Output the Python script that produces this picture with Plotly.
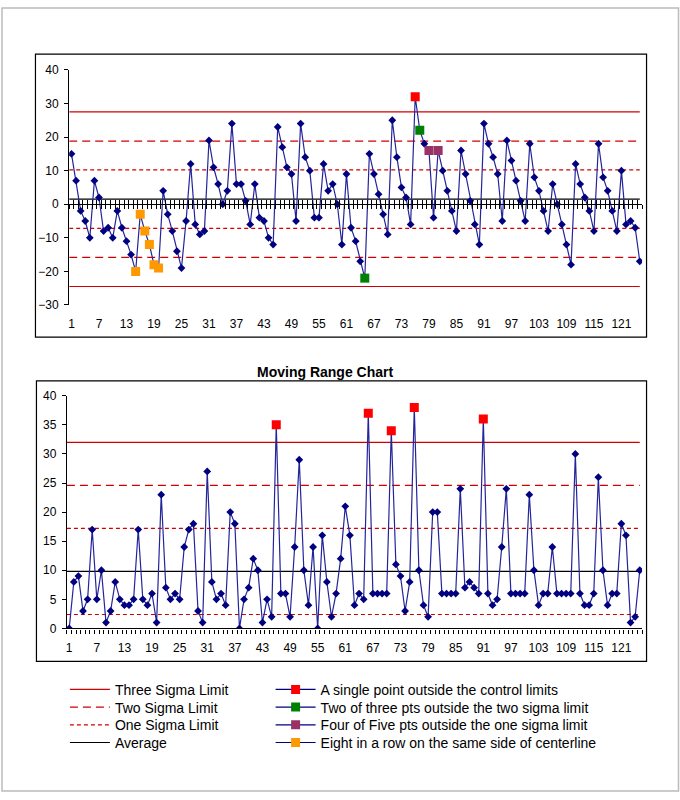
import plotly.graph_objects as go

W, H = 680, 800
FONT = "Liberation Sans, Arial, sans-serif"

# ---------------- data ----------------
points = list(range(1, 126))
values = [15, 7, -2, -5, -10, 7, 2, -8, -7, -10,
          -2, -7, -11, -15, -20, -3, -8, -12, -18, -19,
          4, -3, -8, -14, -19, -5, 12, -6, -9, -8,
          19, 11, 6, 0, 4, 24, 6, 6, 1, -6,
          6, -4, -5, -10, -12, 23, 17, 11, 9, -5,
          24, 14, 10, -4, -4, 12, 4, 6, 0, -12,
          9, -7, -11, -17, -22, 15, 9, 3, -3, -9,
          25, 14, 5, 2, -6, 32, 22, 18, 16, -4,
          16, 10, 4, -2, -8, 16, 9, 1, -6, -12,
          24, 18, 14, 9, -5, 19, 13, 7, 1, -5,
          18, 8, 4, -2, -8, 6, 0, -6, -12, -18,
          12, 6, 2, -2, -8, 18, 8, 4, -2, -8,
          10, -6, -5, -7, -17]
moving_range = [0, 8, 9, 3, 5, 17, 5, 10, 1, 3,
                8, 5, 4, 4, 5, 17, 5, 4, 6, 1,
                23, 7, 5, 6, 5, 14, 17, 18, 3, 1,
                27, 8, 5, 6, 4, 20, 18, 0, 5, 7,
                12, 10, 1, 5, 2, 35, 6, 6, 2, 14,
                29, 10, 4, 14, 0, 16, 8, 2, 6, 12,
                21, 16, 4, 6, 5, 37, 6, 6, 6, 6,
                34, 11, 9, 3, 8, 38, 10, 4, 2, 20,
                20, 6, 6, 6, 6, 24, 7, 8, 7, 6,
                36, 6, 4, 5, 14, 24, 6, 6, 6, 6,
                23, 10, 4, 6, 6, 14, 6, 6, 6, 6,
                30, 6, 4, 4, 6, 26, 10, 4, 6, 6,
                18, 16, 1, 2, 10]

# control limits (individuals chart)
x_average = 1.5
x_one_sigma = [10.2, -7.2]
x_two_sigma = [18.8, -15.8]
x_three_sigma = [27.5, -24.5]
# control limits (moving range chart)
mr_average = 9.8
mr_one_sigma = [17.2, 2.4]
mr_two_sigma = [24.6]
mr_three_sigma = [32.0]

# flagged points (1-based positions)
rule_single_outside = [76]
rule_two_of_three = [65, 77]
rule_four_of_five = [79, 81]
rule_eight_in_row = [15, 16, 17, 18, 19, 20]
mr_single_outside = [46, 66, 71, 76, 91]

tick_labels = ["1", "7", "13", "19", "25", "31", "37", "43", "49", "55", "61",
               "67", "73", "79", "85", "91", "97", "103", "109", "115", "121"]
top_y_ticks = [-30, -20, -10, 0, 10, 20, 30, 40]
mr_y_ticks = [0, 5, 10, 15, 20, 25, 30, 35, 40]

# ---------------- styles ----------------
NAVY = "#000080"
SERIES_LINE = "#24249a"
RED = "#D00000"
DASH2 = "8px,5px"
DASH1 = "4px,3px"


def px(p):
    return p / W


def py(p):
    return 1 - p / H


def gapped(idx, vals):
    xs, ys = [], []
    for k in idx:
        xs += [k, None]
        ys += [vals[k - 1], None]
    return xs, ys


x_span = [points[0] - 0.5, points[-1]]
x_range = [points[0] - 0.5, points[-1] + 0.5]

fig = go.Figure()


def hline(val, dash, color, name, xa, ya, show, legend="legend", width=1.2):
    fig.add_trace(go.Scatter(
        x=x_span, y=[val, val], mode="lines", xaxis=xa, yaxis=ya,
        line=dict(color=color, width=width, dash=dash),
        name=name, showlegend=show, legend=legend,
        hoverinfo="skip"))


# ---- Individuals chart (top) ----
for i, v in enumerate(x_three_sigma):
    hline(v, "solid", RED, "Three Sigma Limit", "x", "y", i == 0, "legend")
for i, v in enumerate(x_two_sigma):
    hline(v, DASH2, RED, "Two Sigma Limit", "x", "y", i == 0, "legend2")
for i, v in enumerate(x_one_sigma):
    hline(v, DASH1, RED, "One Sigma Limit", "x", "y", i == 0, "legend3")
hline(x_average, "solid", "black", "Average", "x3", "y", True, "legend4")

fig.add_trace(go.Scatter(
    x=points, y=values, mode="lines+markers", xaxis="x4", yaxis="y",
    line=dict(color=SERIES_LINE, width=1.2),
    marker=dict(symbol="diamond", size=6, color=NAVY),
    showlegend=False))


def flag(idx, vals, color, name, xa, ya, show, legend):
    xs, ys = gapped(idx, vals)
    fig.add_trace(go.Scatter(
        x=xs, y=ys, mode="lines+markers", xaxis=xa, yaxis=ya,
        connectgaps=False,
        line=dict(color=NAVY, width=1.2),
        marker=dict(symbol="square", size=9, color=color),
        name=name, showlegend=show, legend=legend))


flag(rule_single_outside, values, "#FF0000",
     "A single point outside the control limits", "x4", "y", True, "legend5")
flag(rule_two_of_three, values, "#008000",
     "Two of three pts outside the two sigma limit", "x4", "y", True, "legend6")
flag(rule_four_of_five, values, "#993366",
     "Four of Five pts outside the one sigma limit", "x4", "y", True, "legend7")
flag(rule_eight_in_row, values, "#FF9900",
     "Eight in a row on the same side of centerline", "x4", "y", True, "legend8")

# ---- Moving range chart (bottom) ----
for v in mr_three_sigma:
    hline(v, "solid", RED, "Three Sigma Limit", "x2", "y2", False)
for v in mr_two_sigma:
    hline(v, DASH2, RED, "Two Sigma Limit", "x2", "y2", False)
for v in mr_one_sigma:
    hline(v, DASH1, RED, "One Sigma Limit", "x2", "y2", False)
hline(mr_average, "solid", "black", "Average", "x2", "y2", False)

fig.add_trace(go.Scatter(
    x=points, y=moving_range, mode="lines+markers", xaxis="x5", yaxis="y2",
    line=dict(color=SERIES_LINE, width=1.2),
    marker=dict(symbol="diamond", size=6, color=NAVY),
    showlegend=False))
flag(mr_single_outside, moving_range, "#FF0000",
     "A single point outside the control limits", "x5", "y2", False, "legend5")

# ---------------- layout ----------------
top_dom_x = [px(68.3), px(642)]
top_dom_y = [py(303.3), py(64)]
bot_dom_x = [px(66), px(642)]
bot_dom_y = [py(632.5), py(395.7)]
top_yr = [top_y_ticks[0], top_y_ticks[-1]]
zero_pos = top_dom_y[0] + (0 - top_yr[0]) / (top_yr[1] - top_yr[0]) * (top_dom_y[1] - top_dom_y[0])

tickfont = dict(family=FONT, size=12, color="black")

label_axis = dict(range=x_range, tickmode="array", tickvals=[int(t) for t in tick_labels],
                  ticktext=tick_labels, ticks="outside", ticklen=8,
                  tickcolor="rgba(0,0,0,0)", showline=False, showgrid=False,
                  zeroline=False, tickfont=tickfont, fixedrange=True)
tick_axis = dict(range=x_range, tickmode="linear", tick0=x_range[0], dtick=1,
                 showticklabels=False, showline=True, linecolor="black", linewidth=1.2,
                 tickcolor="black", tickwidth=1, showgrid=False, zeroline=False)

fig.update_layout(
    width=W, height=H,
    margin=dict(l=0, r=0, t=0, b=0),
    paper_bgcolor="white", plot_bgcolor="white",
    font=dict(family=FONT, color="black"),
    xaxis=dict(domain=top_dom_x, anchor="y", **label_axis),
    xaxis3=dict(domain=top_dom_x, overlaying="x", anchor="free", position=zero_pos,
                ticks="outside", ticklen=4, **tick_axis),
    xaxis4=dict(domain=top_dom_x, overlaying="x", anchor="free", position=zero_pos,
                ticks="inside", ticklen=4, **tick_axis),
    yaxis=dict(domain=top_dom_y, anchor="x", range=top_yr, tickmode="array",
               tickvals=top_y_ticks, ticks="outside", ticklen=4, tickcolor="black",
               showline=True, linecolor="black", linewidth=1.2, showgrid=False,
               zeroline=False, tickfont=tickfont, ticklabelstandoff=3),
    xaxis2=dict(domain=bot_dom_x, anchor="y2", **label_axis),
    xaxis5=dict(domain=bot_dom_x, overlaying="x2", anchor="y2",
                ticks="outside", ticklen=4, **tick_axis),
    yaxis2=dict(domain=bot_dom_y, anchor="x2", range=[mr_y_ticks[0], mr_y_ticks[-1]],
                tickmode="array", tickvals=mr_y_ticks, ticks="outside", ticklen=4,
                tickcolor="black", showline=True, linecolor="black", linewidth=1.2,
                showgrid=False, zeroline=False, tickfont=tickfont, ticklabelstandoff=3),
    showlegend=True,
    annotations=[dict(text="<b>Moving Range Chart</b>", x=px(324), y=py(372),
                      xref="paper", yref="paper", showarrow=False,
                      xanchor="center", yanchor="middle",
                      font=dict(family=FONT, size=14, color="black"))],
    shapes=[
        dict(type="rect", xref="paper", yref="paper", x0=px(1), x1=px(678.5),
             y0=py(798), y1=py(1), line=dict(color="#BBBBBB", width=1.5)),
        dict(type="rect", xref="paper", yref="paper", x0=px(34.5), x1=px(646.5),
             y0=py(336), y1=py(48), line=dict(color="black", width=1.2)),
        dict(type="rect", xref="paper", yref="paper", x0=px(35.5), x1=px(646.5),
             y0=py(666), y1=py(380.5), line=dict(color="black", width=1.2)),
    ],
)

leg_common = dict(orientation="v", itemwidth=40,
                  font=dict(family=FONT, size=14, color="black"),
                  bgcolor="rgba(0,0,0,0)", borderwidth=0, xanchor="left",
                  yanchor="middle", itemclick=False, itemdoubleclick=False)
row_y = [695, 713, 731, 749]
col_x = [64, 270]
fig.update_layout(
    legend=dict(**leg_common, x=px(col_x[0]), y=py(row_y[0])),
    legend2=dict(**leg_common, x=px(col_x[0]), y=py(row_y[1])),
    legend3=dict(**leg_common, x=px(col_x[0]), y=py(row_y[2])),
    legend4=dict(**leg_common, x=px(col_x[0]), y=py(row_y[3])),
    legend5=dict(**leg_common, x=px(col_x[1]), y=py(row_y[0])),
    legend6=dict(**leg_common, x=px(col_x[1]), y=py(row_y[1])),
    legend7=dict(**leg_common, x=px(col_x[1]), y=py(row_y[2])),
    legend8=dict(**leg_common, x=px(col_x[1]), y=py(row_y[3])),
)

page_css = ("html,body{margin:0 !important;padding:0 !important;overflow:hidden;"
            "width:680px;height:800px;}body>div{margin:0;padding:0;height:800px;"
            "overflow:hidden;}")
fig.write_html(
    "out.html",
    config={"displayModeBar": False},
    post_script=("var s=document.createElement('style');s.textContent='" + page_css +
                 "';document.head.appendChild(s);"),
)
